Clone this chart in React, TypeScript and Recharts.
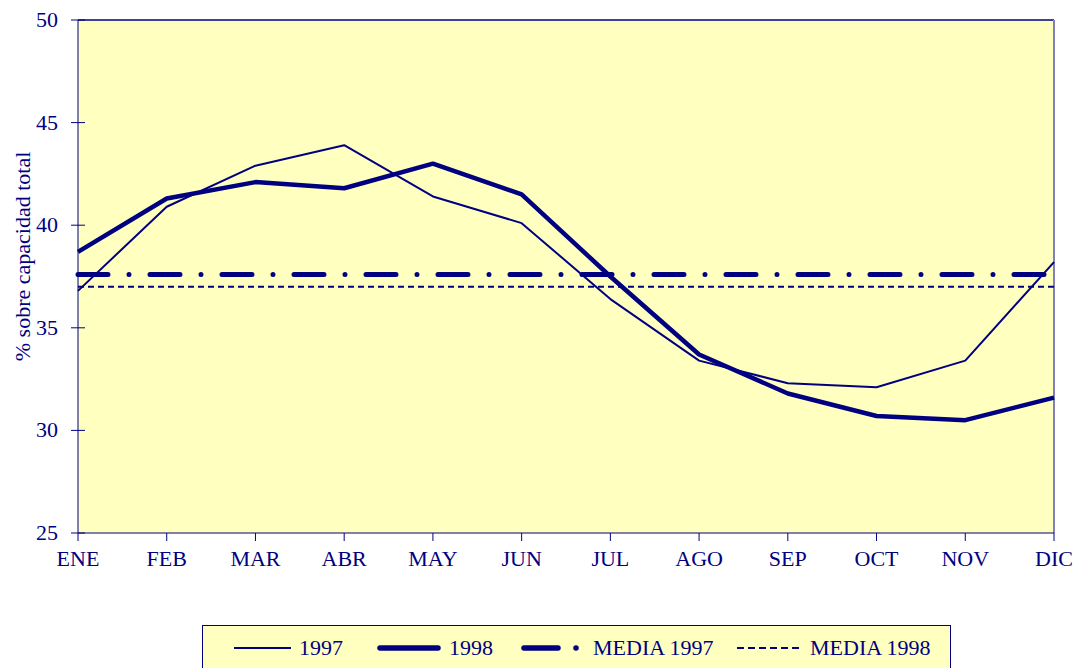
import React from "react";
import { LineChart, Line, XAxis, YAxis, CartesianGrid, Legend, ReferenceLine } from "recharts";

const meses = ["ENE", "FEB", "MAR", "ABR", "MAY", "JUN", "JUL", "AGO", "SEP", "OCT", "NOV", "DIC"];
const serie1997 = [36.8, 40.9, 42.9, 43.9, 41.4, 40.1, 36.4, 33.4, 32.3, 32.1, 33.4, 38.2];
const serie1998 = [38.7, 41.3, 42.1, 41.8, 43.0, 41.5, 37.5, 33.7, 31.8, 30.7, 30.5, 31.6];
const media1997 = 37.6;
const media1998 = 37.0;
const yTicks = [25, 30, 35, 40, 45, 50];

const NAVY = "#000080";
const BG = "#FFFFC0";
const FONT = "'Liberation Serif', 'Times New Roman', Times, serif";

const data = meses.map((mes, i) => ({
  mes,
  v1997: serie1997[i],
  v1998: serie1998[i],
  m1997: media1997,
  m1998: media1998,
}));

// muestras de la leyenda (left = posición dentro del recuadro)
const legendItems = [
  { label: "1997", left: 28, len: 60, width: 2, dash: "", cap: "butt" },
  { label: "1998", left: 174, len: 64, width: 5.5, dash: "", cap: "round" },
  { label: "MEDIA 1997", left: 318, len: 64, width: 5.5, dash: "34 18 0 100", cap: "round" },
  { label: "MEDIA 1998", left: 531, len: 68, width: 2, dash: "7 4", cap: "butt" },
];

const LegendBox = () => (
  <div
    style={{
      position: "relative",
      width: 749,
      height: 46,
      boxSizing: "border-box",
      border: `1px solid ${NAVY}`,
      background: BG,
      fontFamily: FONT,
      fontSize: 22,
      color: NAVY,
    }}
  >
    {legendItems.map((it) => (
      <div
        key={it.label}
        style={{ position: "absolute", left: it.left, top: 0, height: 44, display: "flex", alignItems: "center" }}
      >
        <svg width={it.len} height={10} style={{ marginRight: 8 }}>
          <line
            x1={3}
            y1={5}
            x2={it.cap === "round" ? it.len - 3 : it.len}
            y2={5}
            stroke={NAVY}
            strokeWidth={it.width}
            strokeDasharray={it.dash || undefined}
            strokeLinecap={it.cap as any}
          />
        </svg>
        <span style={{ lineHeight: "22px" }}>{it.label}</span>
      </div>
    ))}
  </div>
);

const YTick = (props: any) => {
  const { x, y, payload } = props;
  return (
    <g>
      <line x1={x + 13} y1={y} x2={x + 27} y2={y} stroke={NAVY} strokeWidth={1} />
      <text x={x} y={y} dy={7} textAnchor="end" fill={NAVY} fontSize={22} style={{ fontFamily: FONT }}>
        {payload.value}
      </text>
    </g>
  );
};

const XTick = (props: any) => {
  const { x, y, payload } = props;
  return (
    <text x={x} y={y} dy={16} textAnchor="middle" fill={NAVY} fontSize={22} style={{ fontFamily: FONT }}>
      {payload.value}
    </text>
  );
};

const YLabel = (props: any) => {
  const { viewBox } = props;
  const cx = 22;
  const cy = viewBox.y + viewBox.height / 2 - 20;
  return (
    <text
      x={cx}
      y={cy}
      transform={`rotate(-90, ${cx}, ${cy})`}
      textAnchor="middle"
      dominantBaseline="central"
      fill={NAVY}
      fontSize={22}
      style={{ fontFamily: FONT }}
    >
      % sobre capacidad total
    </text>
  );
};

export default function App() {
  return (
    <div
      style={{
        position: "absolute",
        left: 0,
        top: 0,
        width: 1085,
        height: 668,
        background: "#fff",
        overflow: "hidden",
        fontFamily: FONT,
      }}
    >
      <LineChart width={1085} height={668} data={data} margin={{ top: 20, right: 31, bottom: 95, left: 0 }}>
        <CartesianGrid horizontal={false} vertical={false} fill={BG} />
        <XAxis
          dataKey="mes"
          interval={0}
          stroke={NAVY}
          tickSize={8}
          tickMargin={9}
          height={40}
          tick={<XTick />}
        />
        <YAxis
          domain={[25, 50]}
          ticks={yTicks}
          width={78}
          stroke={NAVY}
          tickLine={false}
          tickSize={7}
          tickMargin={13}
          tick={<YTick />}
          label={{ content: <YLabel /> }}
        />
        <ReferenceLine y={50} stroke={NAVY} strokeWidth={1.5} />
        <ReferenceLine x="DIC" stroke="#8080C0" strokeWidth={2} />
        <Line
          dataKey="m1997"
          stroke={NAVY}
          strokeWidth={5}
          strokeDasharray="30 21 0 21"
          strokeLinecap="round"
          dot={false}
          activeDot={false}
          isAnimationActive={false}
        />
        <Line
          dataKey="m1998"
          stroke={NAVY}
          strokeWidth={2}
          strokeDasharray="6 4"
          dot={false}
          activeDot={false}
          isAnimationActive={false}
        />
        <Line
          dataKey="v1997"
          stroke={NAVY}
          strokeWidth={2}
          strokeLinejoin="round"
          dot={false}
          activeDot={false}
          isAnimationActive={false}
        />
        <Line
          dataKey="v1998"
          stroke={NAVY}
          strokeWidth={4.5}
          strokeLinejoin="round"
          dot={false}
          activeDot={false}
          isAnimationActive={false}
        />
        <Legend
          layout="horizontal"
          verticalAlign="middle"
          align="center"
          wrapperStyle={{ top: 625, left: 202, width: 749 }}
          content={<LegendBox />}
        />
      </LineChart>
    </div>
  );
}
